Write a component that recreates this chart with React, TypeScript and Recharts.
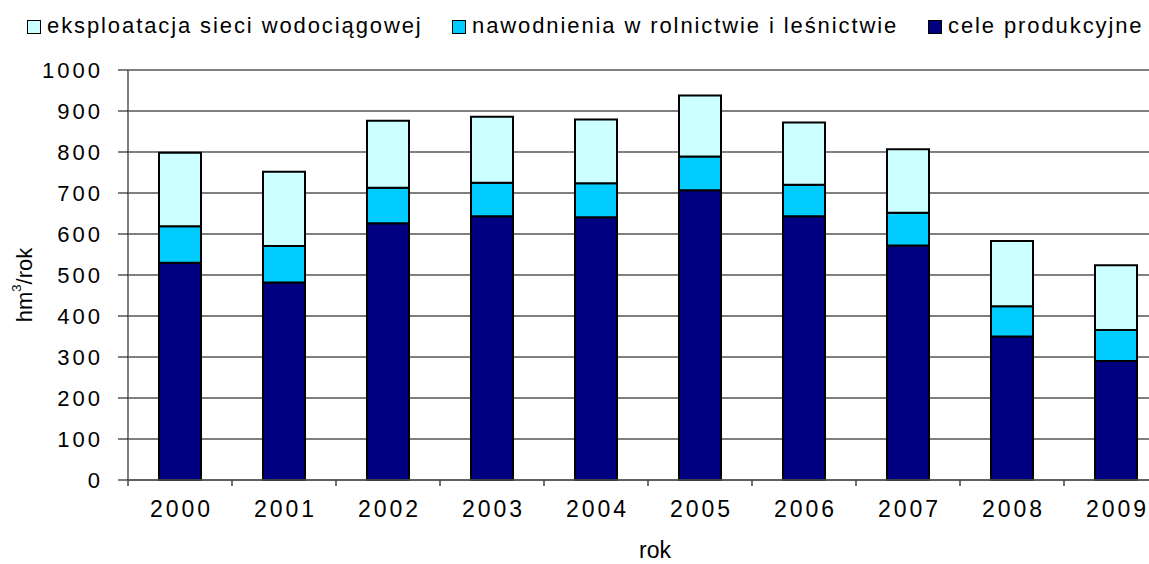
import React from 'react';
import { BarChart, Bar, XAxis, YAxis, CartesianGrid } from 'recharts';

// Water use by purpose, hm³ per year
const years = ['2000', '2001', '2002', '2003', '2004', '2005', '2006', '2007', '2008', '2009'];
const celeProdukcyjne = [530, 482, 626, 643, 641, 707, 643, 572, 350, 290];
const nawodnienia = [89, 89, 87, 82, 83, 82, 77, 80, 74, 76];
const eksploatacjaSieci = [179, 181, 163, 161, 155, 149, 152, 155, 159, 158];
const yTicks = [0, 100, 200, 300, 400, 500, 600, 700, 800, 900, 1000];

const seriesKeys = ['eksploatacja', 'nawodnienia', 'produkcja'];
const seriesLabels = ['eksploatacja sieci wodociągowej', 'nawodnienia w rolnictwie i leśnictwie', 'cele produkcyjne'];
const seriesColors = ['#CCFFFF', '#00CCFF', '#000080'];

const data = years.map((rok, i) => ({
  rok,
  produkcja: celeProdukcyjne[i],
  nawodnienia: nawodnienia[i],
  eksploatacja: eksploatacjaSieci[i],
}));

const FONT = "'Liberation Sans', Arial, sans-serif";
const CHART_W = 1170;
const CHART_H = 564;
const MARGIN = { top: 70, right: 2, left: 0, bottom: 0 };
const Y_AXIS_W = 128;
const X_AXIS_H = 84;
const PLOT_W = CHART_W - MARGIN.left - MARGIN.right - Y_AXIS_W;
const HALF_BAND = PLOT_W / years.length / 2;

const legendLefts = [27, 452, 928];

const XTick = (props: any) => {
  const { x, y, payload } = props;
  return (
    <g>
      <line x1={x - HALF_BAND} x2={x - HALF_BAND} y1={y} y2={y + 6} stroke="#444" strokeWidth={1.5} />
      <text
        x={x + 1.5}
        y={y + 37}
        textAnchor="middle"
        style={{ fontFamily: FONT }}
        fontSize={23}
        letterSpacing={3}
        fill="#000"
      >
        {payload.value}
      </text>
    </g>
  );
};

const YLabel = () => (
  <text
    x={24}
    y={285}
    transform="rotate(-90, 24, 285)"
    textAnchor="middle"
    dominantBaseline="central"
    style={{ fontFamily: FONT }}
    fontSize={22}
    fill="#000"
  >
    hm
    <tspan fontSize={13} dy={-8}>3</tspan>
    <tspan dy={8}>/rok</tspan>
  </text>
);

const XLabel = () => (
  <text x={655} y={558} textAnchor="middle" style={{ fontFamily: FONT }} fontSize={23} fill="#000">
    rok
  </text>
);

export default function App() {
  return (
    <div
      style={{
        position: 'absolute',
        left: 0,
        top: 0,
        width: 1149,
        height: 564,
        overflow: 'hidden',
        background: '#fff',
      }}
    >
      {seriesKeys.map((key, i) => (
        <div
          key={key}
          style={{
            position: 'absolute',
            left: legendLefts[i],
            top: 13,
            display: 'flex',
            alignItems: 'center',
            fontFamily: FONT,
            fontSize: 22,
            letterSpacing: 1.9,
            color: '#000',
            whiteSpace: 'nowrap',
            lineHeight: '26px',
          }}
        >
          <span
            style={{
              display: 'inline-block',
              width: 12,
              height: 12,
              background: seriesColors[i],
              border: '1.5px solid #000',
              marginRight: 6,
              marginTop: 2,
            }}
          />
          {seriesLabels[i]}
        </div>
      ))}
      <div style={{ position: 'absolute', left: 0, top: 0 }}>
        <BarChart width={CHART_W} height={CHART_H} data={data} margin={MARGIN}>
          <CartesianGrid vertical={false} stroke="#000" strokeWidth={1} />
          <XAxis
            dataKey="rok"
            height={X_AXIS_H}
            axisLine={{ stroke: '#555', strokeWidth: 1.5 }}
            tickLine={false}
            tickSize={0}
            tickMargin={0}
            interval={0}
            tick={<XTick />}
            label={<XLabel />}
          />
          <YAxis
            width={Y_AXIS_W}
            domain={[0, 1000]}
            ticks={yTicks}
            interval={0}
            axisLine={{ stroke: '#555', strokeWidth: 1.5 }}
            tickLine={{ stroke: '#000', strokeWidth: 1 }}
            tickSize={10}
            tickMargin={15}
            tick={{ style: { fontFamily: FONT }, fontSize: 22, letterSpacing: 3, fill: '#000' }}
            label={<YLabel />}
          />
          {seriesKeys
            .slice()
            .reverse()
            .map((key) => (
              <Bar
                key={key}
                dataKey={key}
                stackId="a"
                barSize={42}
                fill={seriesColors[seriesKeys.indexOf(key)]}
                stroke="#000"
                strokeWidth={2}
                isAnimationActive={false}
              />
            ))}
        </BarChart>
      </div>
    </div>
  );
}
